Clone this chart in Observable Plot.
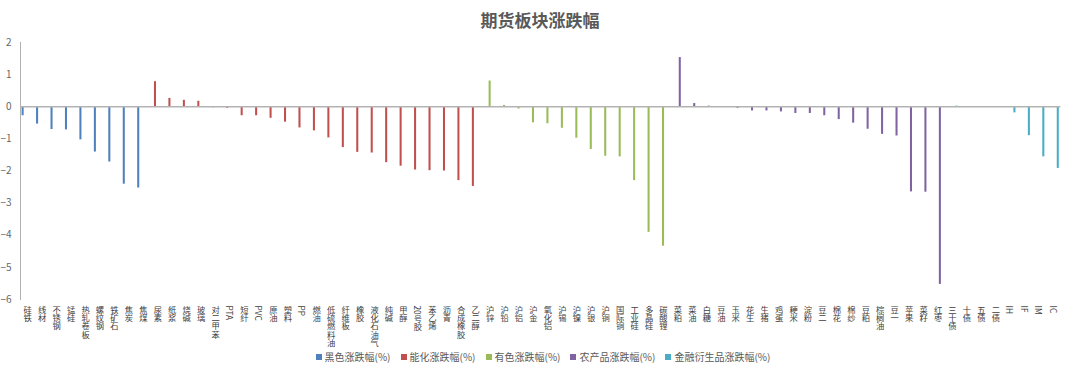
<!DOCTYPE html>
<html><head><meta charset="utf-8">
<script src="https://cdn.jsdelivr.net/npm/d3@7"></script>
<script src="https://cdn.jsdelivr.net/npm/@observablehq/plot@0.6"></script>
<style>
body{margin:0;background:#fff;font-family:"Noto Sans CJK SC","Noto Sans",sans-serif;width:1080px;}
#title{font-size:17px;font-weight:bold;color:#595959;text-align:center;line-height:17px;padding-top:11px;height:21px;}
#chart svg{display:block;}
#legend{display:flex;justify-content:center;align-items:center;height:14px;line-height:14px;font-size:10px;color:#595959;padding-left:6px;}
.item{display:flex;align-items:center;margin:0 5px;}
.sw{width:6px;height:6px;margin-right:3px;}
</style></head><body>
<div id="title">期货板块涨跌幅</div>
<div id="chart"></div>
<div id="legend"></div>
<script>
const seriesNames = ["黑色涨跌幅(%)", "能化涨跌幅(%)", "有色涨跌幅(%)", "农产品涨跌幅(%)", "金融衍生品涨跌幅(%)"];
const seriesColors = ["#4F81BD", "#C0504D", "#9BBB59", "#8064A2", "#4BACC6"];

const blackNames = ["硅铁","线材","不锈钢","锰硅","热轧卷板","螺纹钢","铁矿石","焦炭","焦煤"];
const blackValues = [-0.28,-0.54,-0.71,-0.72,-1.03,-1.41,-1.72,-2.41,-2.53];

const chemNames = ["尿素","纸浆","烧碱","玻璃","对二甲苯","PTA","短纤","PVC","原油","塑料","PP","燃油","低硫燃料油","纤维板","橡胶","液化石油气","纯碱","甲醇","20号胶","苯乙烯","沥青","合成橡胶","乙二醇"];
const chemValues = [0.78,0.26,0.20,0.17,-0.03,-0.05,-0.28,-0.28,-0.36,-0.48,-0.66,-0.75,-0.97,-1.27,-1.42,-1.44,-1.74,-1.85,-1.97,-1.99,-2.00,-2.30,-2.48];

const metalNames = ["沪锌","沪铅","沪铝","沪金","氧化铝","沪锡","沪镍","沪银","沪铜","国际铜","工业硅","多晶硅","碳酸锂"];
const metalValues = [0.80,0.04,-0.07,-0.50,-0.53,-0.67,-0.98,-1.33,-1.54,-1.56,-2.30,-3.91,-4.34];

const agriNames = ["菜粕","菜油","白糖","豆油","玉米","花生","生猪","鸡蛋","粳米","淀粉","豆二","棉花","棉纱","豆粕","棕榈油","豆一","苹果","菜籽","红枣"];
const agriValues = [1.53,0.10,0.02,0.00,-0.05,-0.13,-0.13,-0.16,-0.21,-0.21,-0.28,-0.40,-0.51,-0.70,-0.86,-0.91,-2.65,-2.66,-5.53];

const finNames = ["三十债","十债","五债","二债","IH","IF","IM","IC"];
const finValues = [0.02,0.00,0.00,0.00,-0.19,-0.90,-1.56,-1.92];

const yTicks = [-6,-5,-4,-3,-2,-1,0,1,2];

const groups = [[blackNames,blackValues],[chemNames,chemValues],[metalNames,metalValues],[agriNames,agriValues],[finNames,finValues]];
const rows = [];
groups.forEach(([names, vals], s) => names.forEach((n, i) => rows.push({name: n, value: vals[i], series: s})));
const domain = rows.map(d => d.name);

const barMarks = seriesNames.map((sn, s) => Plot.barY(rows.filter(d => d.series === s), {
  x: "name", y: "value", fill: seriesColors[s], insetLeft: 6.2, insetRight: 6.2, dx: (s - 2) * 2.3
}));

const chart = Plot.plot({
  width: 1080, height: 318,
  marginLeft: 20, marginRight: 19.6, marginTop: 10, marginBottom: 51,
  style: {fontFamily: '"Noto Sans CJK SC","Noto Sans",sans-serif', background: "#fff"},
  x: {type: "band", domain, padding: 0},
  y: {domain: [-6, 2]},
  marks: [
    Plot.frame({anchor: "left", stroke: "#b0b0b0"}),
    ...barMarks,
    Plot.ruleY([0], {stroke: "#b3b3b3", strokeWidth: 1.5}),
    Plot.axisY({ticks: yTicks, tickSize: 0, tickPadding: 9, fontSize: 10, color: "#666", label: null}),
    Plot.axisX({tickSize: 0, tickPadding: 6, fontSize: 8.3, color: "#404040", label: null})
  ]
});
document.getElementById("chart").appendChild(chart);

chart.querySelectorAll('g[aria-label="x-axis tick label"] text').forEach(t => {
  t.setAttribute("writing-mode", "tb");
  t.setAttribute("text-anchor", "start");
  t.removeAttribute("dy");
  t.removeAttribute("y");
});

const lg = document.getElementById("legend");
seriesNames.forEach((n, s) => {
  const it = document.createElement("div"); it.className = "item";
  const sw = document.createElement("div"); sw.className = "sw"; sw.style.background = seriesColors[s];
  const tx = document.createElement("span"); tx.textContent = n;
  it.appendChild(sw); it.appendChild(tx); lg.appendChild(it);
});
</script>
</body></html>
